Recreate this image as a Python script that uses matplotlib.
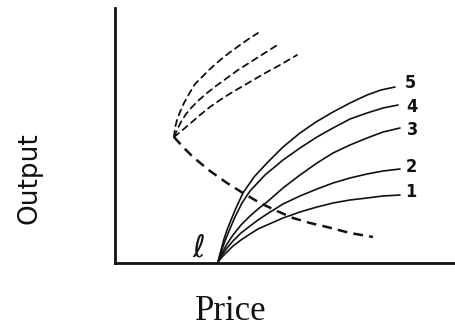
import matplotlib
matplotlib.use("Agg")
import matplotlib.pyplot as plt

plt.rcParams['lines.scale_dashes'] = False

# Arbitrary units: price (x) and output (y)
curve_labels = ["1", "2", "3", "4", "5"]

price_1 = [103, 107, 112, 118, 126, 135, 143, 152, 168, 185, 202, 218, 235, 252, 268, 285]
output_1 = [1, 6, 11, 17, 23, 29, 34, 38, 45, 51, 56, 60, 63, 65, 67, 68]
price_2 = [103, 107, 112, 118, 126, 135, 143, 152, 168, 185, 202, 218, 235, 252, 268, 285]
output_2 = [1, 8, 15, 22, 30, 37, 43, 49, 59, 67, 74, 80, 85, 89, 92, 94]
price_3 = [103, 107, 112, 118, 126, 135, 143, 152, 168, 185, 202, 218, 235, 252, 268, 285]
output_3 = [1, 10, 19, 28, 38, 47, 54, 61, 75, 88, 100, 110, 118, 125, 131, 135]
price_4 = [103, 106, 110, 114, 120, 127, 135, 150, 168, 185, 202, 218, 235, 252, 268, 283]
output_4 = [1, 11, 22, 32, 46, 60, 72, 88, 103, 115, 126, 135, 144, 150, 155, 158]
price_5 = [103, 106, 109, 112, 116, 121, 128, 139, 152, 168, 185, 201, 218, 235, 252, 266, 280]
output_5 = [1, 13, 24, 33, 43, 55, 70, 86, 100, 116, 130, 141, 151, 160, 168, 173, 176]

# dashed branches from the kink
upper_top_price = [59, 60, 62, 65, 69, 74, 80, 87, 95, 104, 114, 125, 135, 143]
upper_top_output = [126, 135, 143, 151, 160, 169, 179, 186, 194, 202, 210, 218, 225, 230]
upper_mid_price = [59, 62, 66, 71, 77, 84, 92, 101, 112, 123, 134, 145, 156, 164]
upper_mid_output = [126, 133, 141, 149, 156, 163, 170, 177, 185, 193, 200, 207, 214, 219]
upper_low_price = [59, 64, 70, 77, 85, 95, 105, 116, 128, 140, 152, 165, 182]
upper_low_output = [126, 130, 135, 141, 148, 156, 163, 170, 177, 184, 191, 198, 208]
lower_price = [59, 68, 78, 95, 112, 128, 145, 162, 178, 195, 212, 235, 258]
lower_output = [126, 116, 106, 92, 80, 70, 60, 52, 45, 40, 36, 30, 26]

label_price = [296, 296, 298, 297, 295]
label_output = [71, 96, 133, 156, 180]

W, H = 456, 331
fig = plt.figure(figsize=(W / 100, H / 100), dpi=100)
ax = fig.add_axes([115 / W, (H - 263) / H, (W - 115) / W, (263 - 8) / H])
ax.set_xlim(0, 341)
ax.set_ylim(0, 255)
for s in ["top", "right"]:
    ax.spines[s].set_visible(False)
for s in ["left", "bottom"]:
    ax.spines[s].set_linewidth(2.0)
    ax.spines[s].set_color("#111111")
ax.set_xticks([])
ax.set_yticks([])

solid = [(price_1, output_1), (price_2, output_2), (price_3, output_3),
         (price_4, output_4), (price_5, output_5)]
for px, oy in solid:
    ax.plot(px, oy, color="#111111", lw=1.2, clip_on=False,
            solid_capstyle="round", solid_joinstyle="round")

for px, oy in [(upper_top_price, upper_top_output),
               (upper_mid_price, upper_mid_output),
               (upper_low_price, upper_low_output)]:
    ax.plot(px, oy, color="#111111", lw=1.3, dashes=(4.5, 3.5), dash_capstyle="round")

ax.plot(lower_price, lower_output, color="#111111", lw=1.8, dashes=(7, 4.5))

for lab, x, y in zip(curve_labels, label_price, label_output):
    ax.text(x, y, lab, ha="center", va="center", fontsize=13, fontweight="bold",
            family="DejaVu Sans", fontstretch="condensed", color="#111111")

ax.text(84, 15, r"$\ell$", ha="center", va="center", fontsize=22, color="#111111")

fig.text(30 / W, 1 - 178 / H, "Output", rotation=90, ha="center", va="center",
         fontsize=19, family="DejaVu Sans", color="#111111")
fig.text(231 / W, 1 - 320 / H, "Price", ha="center", va="baseline",
         fontsize=25, family="Liberation Serif", color="#111111")

fig.savefig("out.png", dpi=100, facecolor="white")
